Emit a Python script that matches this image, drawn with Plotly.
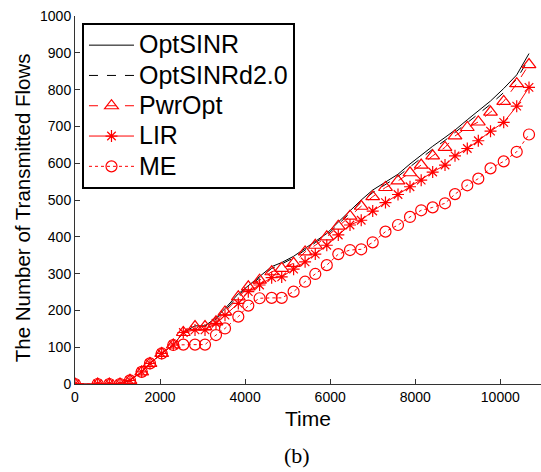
import plotly.graph_objects as go

time = [0, 533, 807, 1058, 1293, 1568, 1763, 2038, 2311, 2547, 2822, 3057, 3315, 3527,
        3840, 4075, 4340, 4624, 4860, 5140, 5410, 5650, 5920, 6191, 6466, 6730, 7000,
        7300, 7595, 7877, 8140, 8410, 8700, 8935, 9224, 9483, 9770, 10080, 10386, 10675]

opt_sinr = [0, 0, 0, 0, 10, 33, 56, 83, 106, 140, 158, 158, 180, 205, 245, 268, 292, 319,
            330, 347, 368, 388, 409, 440, 472, 500, 527, 549, 570, 598, 622, 646, 670, 690,
            718, 742, 769, 803, 840, 898]
opt_sinr_d2 = [0, 0, 0, 0, 10, 33, 56, 83, 106, 140, 156, 156, 176, 200, 240, 265, 288, 314,
               326, 343, 364, 384, 404, 434, 466, 494, 520, 543, 564, 590, 614, 638, 662, 683,
               710, 734, 760, 792, 828, 885]
pwr_opt = [0, 0, 0, 0, 10, 33, 56, 83, 106, 140, 156, 156, 169, 196, 237, 264, 282, 305,
           314, 328, 359, 377, 400, 429, 456, 483, 509, 534, 552, 574, 595, 620, 643, 674,
           697, 712, 739, 768, 816, 868]
lir = [0, 0, 0, 0, 10, 33, 56, 83, 106, 140, 147, 147, 165, 187, 219, 251, 269, 289,
       291, 312, 332, 353, 377, 405, 432, 445, 470, 493, 515, 536, 554, 576, 595, 620,
       640, 661, 687, 711, 755, 806]
me = [0, 0, 0, 0, 10, 33, 56, 83, 106, 107, 107, 107, 133, 151, 183, 213, 233, 234,
      234, 251, 278, 299, 323, 353, 364, 366, 385, 414, 432, 454, 472, 480, 491, 516,
      540, 558, 586, 605, 631, 678]

series_names = ["OptSINR", "OptSINRd2.0", "PwrOpt", "LIR", "ME"]

x_ticks = [0, 2000, 4000, 6000, 8000, 10000]
y_ticks = [0, 100, 200, 300, 400, 500, 600, 700, 800, 900, 1000]

FONT = "Liberation Sans, Arial, sans-serif"
RED = "#FF0000"


def lg(name):
    return '<span style="font-size:25px">' + name + '</span>'


fig = go.Figure()
fig.add_trace(go.Scatter(x=time, y=opt_sinr, name=lg(series_names[0]), mode="lines",
                         line=dict(color="black", width=1)))
fig.add_trace(go.Scatter(x=time, y=opt_sinr_d2, name=lg(series_names[1]), mode="lines",
                         line=dict(color="black", width=1, dash="dash")))
fig.add_trace(go.Scatter(x=time, y=pwr_opt, name=lg(series_names[2]), mode="lines+markers",
                         line=dict(color=RED, width=1, dash="dash"),
                         marker=dict(symbol="triangle-up-open", size=12, color=RED,
                                     line=dict(width=1.2, color=RED))))
fig.add_trace(go.Scatter(x=time, y=lir, name=lg(series_names[3]), mode="lines+markers",
                         line=dict(color=RED, width=1),
                         marker=dict(symbol="asterisk-open", size=10, color=RED,
                                     line=dict(width=1.2, color=RED))))
fig.add_trace(go.Scatter(x=time, y=me, name=lg(series_names[4]), mode="lines+markers",
                         line=dict(color=RED, width=1, dash="dot"),
                         marker=dict(symbol="circle-open", size=11, color=RED,
                                     line=dict(width=1.2, color=RED))))

fig.update_layout(
    width=541, height=472,
    margin=dict(l=75, r=0, t=16, b=88),
    paper_bgcolor="white", plot_bgcolor="white",
    font=dict(family=FONT, color="black", size=13.5),
    showlegend=True,
    legend=dict(x=0.015, y=0.981, xanchor="left", yanchor="top",
                bordercolor="black", borderwidth=2, bgcolor="white",
                font=dict(size=21, family=FONT), itemwidth=45,
                tracegroupgap=0),
    xaxis=dict(range=[0, 10957], tickvals=x_ticks, ticktext=[str(v) for v in x_ticks],
               ticks="inside", ticklen=5, tickcolor="#333", showline=True,
               linecolor="#333", linewidth=1, showgrid=False, zeroline=False,
               tickfont=dict(size=14)),
    yaxis=dict(range=[0, 1000], tickvals=y_ticks, ticktext=[str(v) for v in y_ticks],
               ticks="inside", ticklen=5, tickcolor="#333", showline=True,
               linecolor="#333", linewidth=1, showgrid=False, zeroline=False,
               tickfont=dict(size=14)),
    annotations=[
        dict(text="Time", xref="paper", yref="paper", x=0.5, y=-0.093,
             xanchor="center", yanchor="middle", showarrow=False,
             font=dict(size=21, family=FONT)),
        dict(text="The Number of Transmitted Flows", xref="paper", yref="paper",
             x=-0.114, y=0.48, xanchor="center", yanchor="middle", textangle=-90,
             showarrow=False, font=dict(size=20.5, family=FONT)),
        dict(text="(b)", xref="paper", yref="paper", x=0.477, y=-0.195,
             xanchor="center", yanchor="middle", showarrow=False,
             font=dict(size=22, family="Liberation Serif, Times New Roman, serif")),
    ],
)

fig.write_html("out.html")
